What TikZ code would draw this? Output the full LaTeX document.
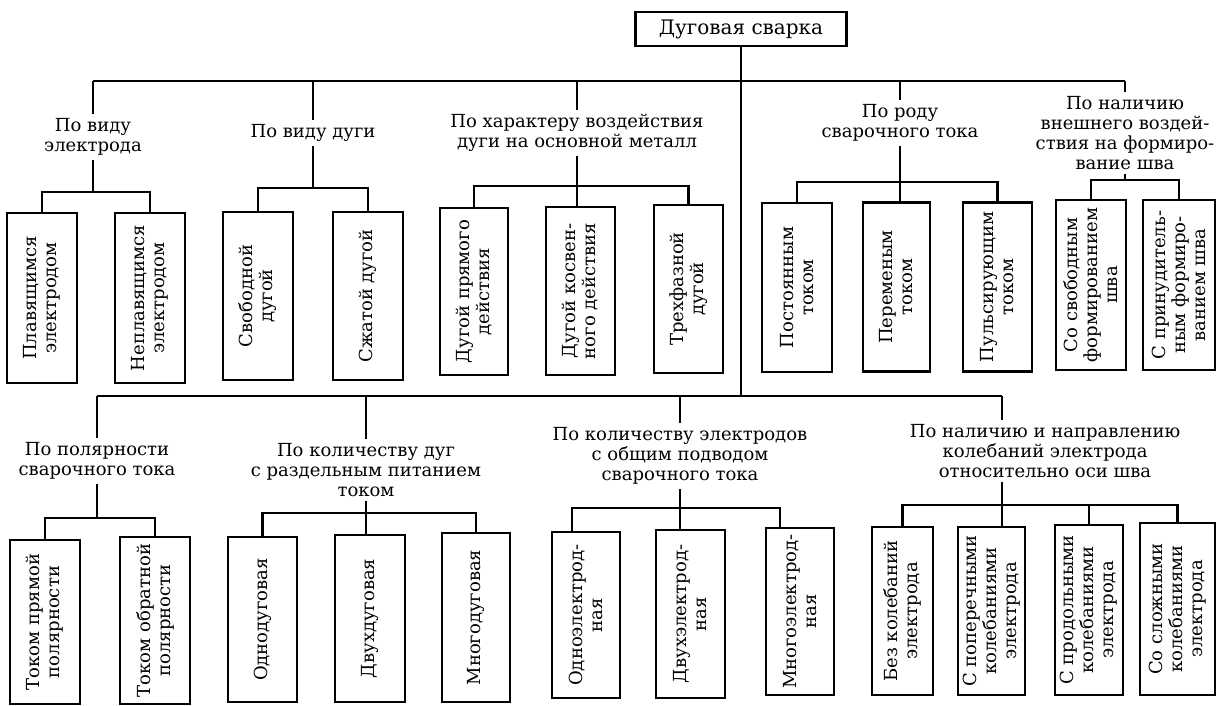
\documentclass[tikz,border=0pt]{standalone}
\usepackage{fontspec}
\setmainfont{DejaVu Serif}
\begin{document}
\begin{tikzpicture}[x=1pt,y=-1pt,
  conn/.style={line width=2.2pt},
  vbox/.style={draw, line width=2.4pt, rotate=90, align=center, inner sep=2pt,
    font=\fontsize{18}{20}\selectfont},
  lbl/.style={align=center, inner sep=4pt, font=\fontsize{18}{20}\selectfont},
  titlebox/.style={draw, line width=2.4pt, minimum width=211pt, minimum height=34pt,
    inner sep=2pt, font=\fontsize{20}{22}\selectfont}]
\useasboundingbox (0,0) rectangle (1223,705);

% root and trunks
\node[titlebox] (root) at (741,29) {Дуговая сварка};
\coordinate (ubL) at (93,81);
\coordinate (ubR) at (1125,81);
\coordinate (lbJ) at (741,396);
\coordinate (lbL) at (97,396);
\coordinate (lbR) at (1002,396);
\draw[conn] (root.south) -- (lbJ);
\draw[conn] (ubL) -- (ubR);
\draw[conn] (lbL) -- (lbR);

% ---------- upper group 1
\node[lbl] (g1) at (93,137) {По виду\\электрода};
\coordinate (s1) at (93,192);
\node[vbox, minimum width=170pt, minimum height=70pt] (a1) at (42,298) {Плавящимся\\электродом};
\node[vbox, minimum width=170pt, minimum height=70pt] (a2) at (150,298) {Неплавящимся\\электродом};
\draw[conn] (ubL) -- (g1.north);
\draw[conn] (g1.south) -- (s1);
\draw[conn] (a1.east) |- (s1) -| (a2.east);

% ---------- upper group 2
\node[lbl] (g2) at (313,133) {По виду дуги};
\coordinate (s2) at (313,188);
\node[vbox, minimum width=168pt, minimum height=70pt] (a3) at (258,296) {Свободной\\дугой};
\node[vbox, minimum width=168pt, minimum height=70pt] (a4) at (368,296) {Сжатой дугой};
\draw[conn] (g2.north |- ubL) -- (g2.north);
\draw[conn] (g2.south) -- (s2);
\draw[conn] (a3.east) |- (s2) -| (a4.east);

% ---------- upper group 3
\node[lbl] (g3) at (577,133) {По характеру воздействия\\дуги на основной металл};
\coordinate (s3) at (577,186);
\node[vbox, minimum width=167pt, minimum height=68pt] (a5) at (474,291.5) {Дугой прямого\\действия};
\node[vbox, minimum width=168pt, minimum height=69pt] (a6) at (580.5,291) {Дугой косвен-\\ного действия};
\node[vbox, minimum width=168pt, minimum height=69pt] (a7) at (688.5,289) {Трехфазной\\дугой};
\draw[conn] (g3.north |- ubL) -- (g3.north);
\draw[conn] (g3.south) -- (s3);
\draw[conn] (a5.east) |- (s3) -| (a7.east);
\draw[conn] (s3) -- (s3 |- a6.east);

% ---------- upper group 4
\node[lbl] (g4) at (900,123) {По роду\\сварочного тока};
\coordinate (s4) at (900,182);
\node[vbox, minimum width=169pt, minimum height=70pt] (a8) at (797,287.5) {Постоянным\\током};
\node[vbox, minimum width=169pt, minimum height=67pt] (a9) at (896.5,287) {Переменым\\током};
\node[vbox, minimum width=169pt, minimum height=69pt] (a10) at (997.5,287) {Пульсирующим\\током};
\draw[conn] (g4.north |- ubL) -- (g4.north);
\draw[conn] (g4.south) -- (s4);
\draw[conn] (a8.east) |- (s4) -| (a10.east);
\draw[conn] (s4) -- (s4 |- a9.east);

% ---------- upper group 5
\node[lbl] (g5) at (1125,133) {По наличию\\внешнего воздей-\\ствия на формиро-\\вание шва};
\coordinate (s5) at (1125,180);
\node[vbox, minimum width=170pt, minimum height=70pt] (a11) at (1091,285) {Со свободным\\формированием\\шва};
\node[vbox, minimum width=170pt, minimum height=72pt] (a12) at (1179,285) {С принудитель-\\ным формиро-\\ванием шва};
\draw[conn] (ubR) -- (g5.north);
\draw[conn] (g5.south) -- (s5);
\draw[conn] (a11.east) |- (s5) -| (a12.east);

% ---------- lower group 1
\node[lbl] (h1) at (97,461) {По полярности\\сварочного тока};
\coordinate (t1) at (97,518);
\node[vbox, minimum width=164pt, minimum height=70pt] (c1) at (45,622) {Током прямой\\полярности};
\node[vbox, minimum width=167pt, minimum height=70pt] (c2) at (155,620.5) {Током обратной\\полярности};
\draw[conn] (lbL) -- (h1.north);
\draw[conn] (h1.south) -- (t1);
\draw[conn] (c1.east) |- (t1) -| (c2.east);

% ---------- lower group 2
\node[lbl] (h2) at (366,470) {По количеству дуг\\с раздельным питанием\\током};
\coordinate (t2) at (366,513);
\node[vbox, minimum width=165pt, minimum height=69pt] (c3) at (262.5,619.5) {Однодуговая};
\node[vbox, minimum width=167pt, minimum height=70pt] (c4) at (370,618.5) {Двухдуговая};
\node[vbox, minimum width=169pt, minimum height=68pt] (c5) at (476,617.5) {Многодуговая};
\draw[conn] (h2.north |- lbL) -- (h2.north);
\draw[conn] (h2.south) -- (t2);
\draw[conn] (c3.east) |- (t2) -| (c5.east);
\draw[conn] (t2) -- (t2 |- c4.east);

% ---------- lower group 3
\node[lbl] (h3) at (680,456) {По количеству электродов\\с общим подводом\\сварочного тока};
\coordinate (t3) at (680,508);
\node[vbox, minimum width=166pt, minimum height=68pt] (c6) at (586,615) {Одноэлектрод-\\ная};
\node[vbox, minimum width=168pt, minimum height=69pt] (c7) at (690.5,614) {Двухэлектрод-\\ная};
\node[vbox, minimum width=167pt, minimum height=68pt] (c8) at (800,611.5) {Многоэлектрод-\\ная};
\draw[conn] (h3.north |- lbL) -- (h3.north);
\draw[conn] (h3.south) -- (t3);
\draw[conn] ([xshift=-14pt]c6.east) |- (t3) -| ([xshift=-20pt]c8.east);
\draw[conn] (t3) -- (t3 |- c7.east);

% ---------- lower group 4
\node[lbl] (h4) at (1045,451) {По наличию и направлению\\колебаний электрода\\относительно оси шва};
\coordinate (t4) at (1002,505);
\node[vbox, minimum width=168pt, minimum height=61pt] (d1) at (902.5,611) {Без колебаний\\электрода};
\node[vbox, minimum width=168pt, minimum height=67pt] (d2) at (991.5,611) {С поперечными\\колебаниями\\электрода};
\node[vbox, minimum width=170pt, minimum height=68pt] (d3) at (1089,610) {С продольными\\колебаниями\\электрода};
\node[vbox, minimum width=172pt, minimum height=75pt] (d4) at (1177.5,609) {Со сложными\\колебаниями\\электрода};
\draw[conn] (lbR) -- (lbR |- h4.north);
\draw[conn] (t4 |- h4.south) -- (t4);
\draw[conn] (d1.east) |- (t4) -| (d4.east);
\draw[conn] (t4) -- (t4 |- d2.east);
\draw[conn] (d3.east) -- (d3.east |- t4);
\end{tikzpicture}
\end{document}
